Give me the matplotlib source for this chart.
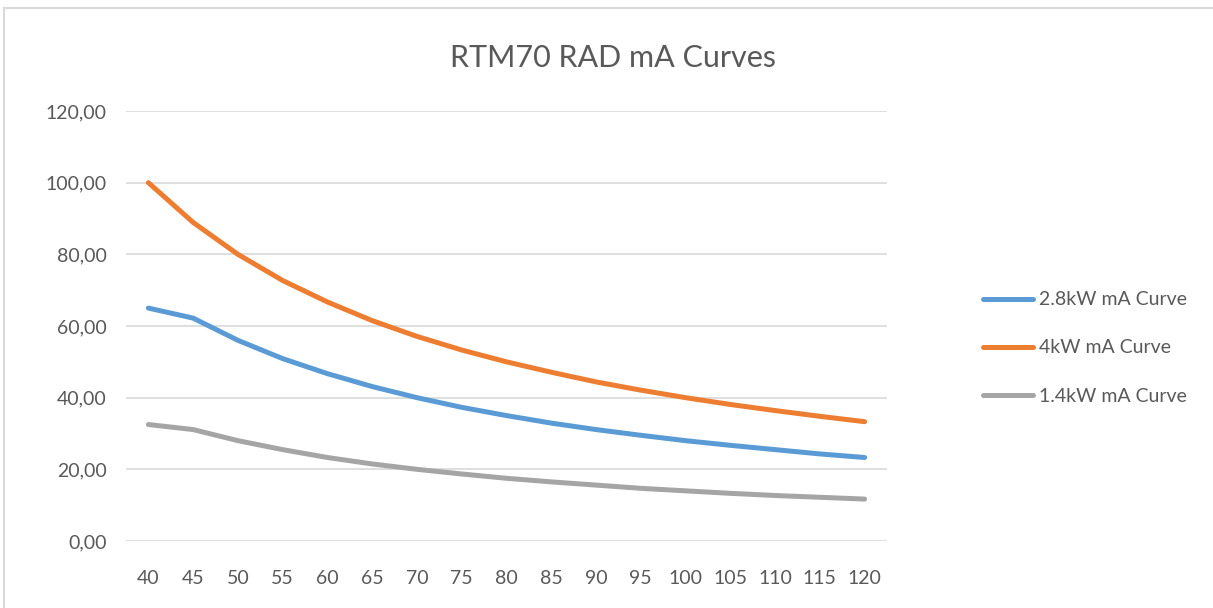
import matplotlib
matplotlib.use("Agg")
import matplotlib.pyplot as plt
from matplotlib.lines import Line2D

categories = [40, 45, 50, 55, 60, 65, 70, 75, 80, 85, 90, 95, 100, 105, 110, 115, 120]
kw28 = [65.0, 62.2, 56.0, 50.9, 46.7, 43.1, 40.0, 37.3, 35.0, 32.9, 31.1, 29.5, 28.0, 26.7, 25.5, 24.3, 23.3]
kw4 = [100.0, 88.9, 80.0, 72.7, 66.7, 61.5, 57.1, 53.3, 50.0, 47.1, 44.4, 42.1, 40.0, 38.1, 36.4, 34.8, 33.3]
kw14 = [32.5, 31.1, 28.0, 25.5, 23.3, 21.5, 20.0, 18.7, 17.5, 16.5, 15.6, 14.7, 14.0, 13.3, 12.7, 12.2, 11.7]
series_names = ["2.8kW mA Curve", "4kW mA Curve", "1.4kW mA Curve"]
colors = ["#5B9BD5", "#ED7D31", "#A5A5A5"]
yticks = [0, 20, 40, 60, 80, 100, 120]
title = "RTM70 RAD mA Curves"

plt.rcParams['font.family'] = ['Lato', 'DejaVu Sans']

W, H = 1213, 608
fig = plt.figure(figsize=(W / 100, H / 100), dpi=100)
ax = fig.add_axes([126 / W, 1 - 541 / H, (887 - 126) / W, (541 - 111) / H])

xs = list(range(len(categories)))
for vals, name, c in zip([kw28, kw4, kw14], series_names, colors):
    ax.plot(xs, vals, color=c, lw=3.6, label=name, solid_capstyle='round', solid_joinstyle='round')

ax.set_xlim(-0.5, len(categories) - 0.5)
ax.set_ylim(0, 120)
ax.set_yticks(yticks)
ax.set_yticklabels([f"{v:.2f}".replace('.', ',') for v in yticks])
ax.set_xticks(xs)
ax.set_xticklabels([str(c) for c in categories])
ax.tick_params(axis='both', length=0, labelsize=14, labelcolor='#595959')
ax.tick_params(axis='y', pad=14)
ax.tick_params(axis='x', pad=21)
ax.grid(axis='y', color='#D9D9D9', lw=1.2)
ax.set_axisbelow(True)
for s in ax.spines.values():
    s.set_visible(False)

fig.text(613 / W, 1 - 58 / H, title, ha='center', va='center', fontsize=22, color='#595959')

leg = fig.legend(loc='center left', bbox_to_anchor=(965 / W, 1 - 348 / H), frameon=False,
                 fontsize=14, handlelength=2.6, handletextpad=0.3, labelspacing=1.6)
for t in leg.get_texts():
    t.set_color('#595959')

fig.add_artist(Line2D([4 / W, 1.0], [1 - 8 / H, 1 - 8 / H], transform=fig.transFigure, color='#D9D9D9', lw=1.5))
fig.add_artist(Line2D([4 / W, 4 / W], [0, 1 - 8 / H], transform=fig.transFigure, color='#D9D9D9', lw=1.5))

fig.savefig("out.png", dpi=100)
